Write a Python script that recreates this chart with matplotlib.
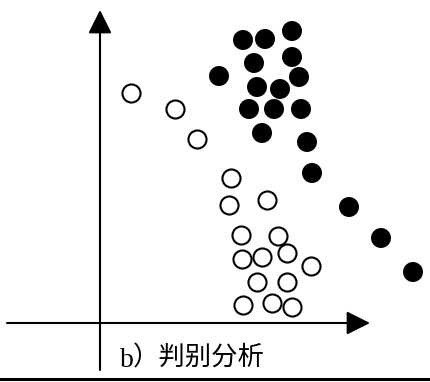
import matplotlib.pyplot as plt

plt.rcParams['font.family'] = ['Liberation Serif', 'Noto Sans CJK SC']

# two groups, origin at the axis crossing
filled_x = [143, 165, 192, 154, 192, 119, 199, 157, 180, 149, 174, 201, 162, 207, 212, 249, 281, 313]
filled_y = [283, 284, 292, 260, 266, 247, 246, 236, 234, 214, 214, 214, 190, 181, 150, 116, 85, 51]
open_x = [31, 75, 97, 131, 129, 167, 141, 178, 142, 162, 187, 211, 157, 187, 143, 172, 192]
open_y = [230, 214, 184, 145, 118, 123, 88, 87, 64, 66, 70, 57, 41, 41, 18, 20, 16]
caption_letter = 'b'
caption_text = '）判别分析'

fig = plt.figure(figsize=(4.3, 3.82), dpi=100)
ax = fig.add_axes([0, 0, 1, 1])
ax.set_xlim(-100, 330)
ax.set_ylim(-59, 323)
ax.axis('off')

arrow = dict(arrowstyle='-|>,head_length=1.0,head_width=0.5', lw=1.5, color='black',
             mutation_scale=14.4, shrinkA=0, shrinkB=0)
ax.annotate('', xy=(0, 313), xytext=(0, -47), arrowprops=arrow)
ax.annotate('', xy=(270, 0), xytext=(-93, 0), arrowprops=arrow)

ax.scatter(filled_x, filled_y, s=207, c='black', edgecolors='none', zorder=3)
ax.scatter(open_x, open_y, s=169, facecolors='white', edgecolors='black', linewidths=1.5, zorder=3)

ax.text(20, -44, caption_letter, fontsize=20, ha='left', va='baseline')
ax.text(33, -35, caption_text, fontsize=19, ha='left', va='center',
        family=['Noto Sans CJK SC'], fontweight='light')
ax.axhline(-55.5, color='black', lw=2.2)

fig.savefig('out.png', dpi=100)
